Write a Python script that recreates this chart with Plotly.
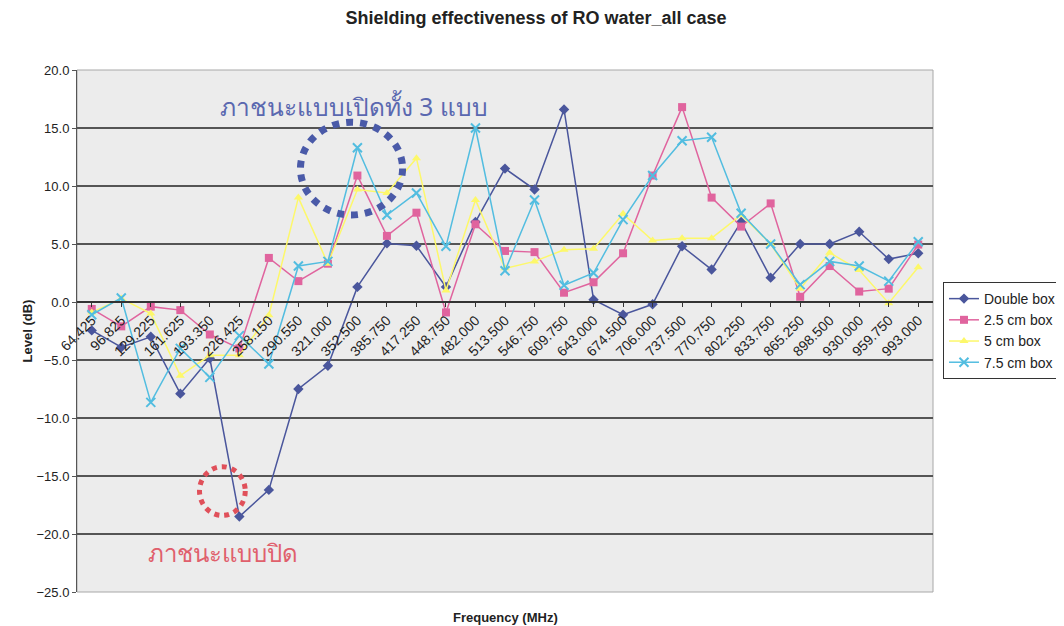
import plotly.graph_objects as go

freq_labels = ["64.425", "96.825", "129.225", "161.625", "193.350", "226.425", "258.150",
               "290.550", "321.000", "352.500", "385.750", "417.250", "448.750", "482.000",
               "513.500", "546.750", "609.750", "643.000", "674.500", "706.000", "737.500",
               "770.750", "802.250", "833.750", "865.250", "898.500", "930.000", "959.750",
               "993.000"]

double_box = [-2.45, -3.9, -3.0, -7.9, -4.85, -18.5, -16.2, -7.5, -5.5, 1.3, 5.05, 4.85, 1.3,
              6.9, 11.5, 9.7, 16.6, 0.2, -1.1, -0.2, 4.8, 2.8, 6.9, 2.1, 5.0, 5.0, 6.05, 3.7, 4.2]
box_2_5cm = [-0.6, -2.1, -0.4, -0.7, -2.8, -4.0, 3.8, 1.8, 3.3, 10.9, 5.7, 7.7, -0.9,
             6.7, 4.4, 4.3, 0.8, 1.7, 4.2, 10.9, 16.8, 9.0, 6.5, 8.5, 0.45, 3.1, 0.9, 1.15, 4.95]
box_5cm = [-0.9, 0.3, -1.0, -6.35, -4.6, -4.6, -1.15, 9.0, 3.3, 9.7, 9.4, 12.4, 1.0,
           8.8, 2.9, 3.5, 4.5, 4.6, 7.6, 5.3, 5.5, 5.5, 7.5, 5.0, 1.15, 4.25, 2.75, -0.1, 3.0]
box_7_5cm = [-1.1, 0.35, -8.65, -4.0, -6.5, -2.9, -5.35, 3.1, 3.5, 13.3, 7.5, 9.4, 4.8,
             15.0, 2.7, 8.8, 1.45, 2.5, 7.1, 10.9, 13.9, 14.2, 7.65, 5.0, 1.5, 3.5, 3.1, 1.8, 5.2]

y_min, y_max = -25, 20

fig = go.Figure()
fig.add_trace(go.Scatter(x=freq_labels, y=double_box, name="Double box", mode="lines+markers",
                         line=dict(color="#4a569c", width=1.5),
                         marker=dict(symbol="diamond", size=8, color="#4a569c")))
fig.add_trace(go.Scatter(x=freq_labels, y=box_2_5cm, name="2.5 cm box", mode="lines+markers",
                         line=dict(color="#e0649e", width=1.5),
                         marker=dict(symbol="square", size=8, color="#e0649e")))
fig.add_trace(go.Scatter(x=freq_labels, y=box_5cm, name="5 cm box", mode="lines+markers",
                         line=dict(color="#fdf86a", width=1.5),
                         marker=dict(symbol="triangle-up", size=8, color="#fdf86a")))
fig.add_trace(go.Scatter(x=freq_labels, y=box_7_5cm, name="7.5 cm box", mode="lines+markers",
                         line=dict(color="#52bde0", width=1.5),
                         marker=dict(symbol="x-thin", size=9, color="#52bde0",
                                     line=dict(color="#52bde0", width=2))))

# dotted circles highlighting regions
fig.add_shape(type="circle", xref="x", yref="y", x0=7.07, x1=10.53, y0=7.5, y1=15.5,
              line=dict(color="#4a5aa8", width=7, dash="dot"), layer="above")
fig.add_shape(type="circle", xref="x", yref="y", x0=3.65, x1=5.2, y0=-18.4, y1=-14.2,
              line=dict(color="#e0505a", width=5, dash="dot"), layer="above")

# plot frame
fig.add_shape(type="rect", xref="paper", yref="paper", x0=0, x1=1, y0=0, y1=1,
              line=dict(color="#a8a8a8", width=1), layer="below")

fig.add_annotation(x=8.87, y=16.85, xref="x", yref="y", text="ภาชนะแบบเปิดทั้ง 3 แบบ",
                   showarrow=False, font=dict(family="Noto Sans, DejaVu Sans", size=24.5, color="#5a68b0"))
fig.add_annotation(x=4.46, y=-21.6, xref="x", yref="y", text="ภาชนะแบบปิด",
                   showarrow=False, font=dict(family="Noto Sans, DejaVu Sans", size=24, color="#e0606c"))

fig.add_annotation(x=0.5, y=-0.048, xref="paper", yref="paper", text="<b>Frequency (MHz)</b>",
                   showarrow=False, yanchor="middle", font=dict(size=13, color="#222"))
fig.add_annotation(x=-0.069, y=0.5, xref="paper", yref="paper", text="<b>Level (dB)</b>",
                   showarrow=False, textangle=-90, font=dict(size=13, color="#222"))

fig.update_layout(
    width=1056, height=618,
    margin=dict(l=69, r=131, t=62, b=34, autoexpand=False),
    paper_bgcolor="#ffffff",
    plot_bgcolor="#ececec",
    font=dict(family="Liberation Sans, Arial", size=12, color="#222"),
    title=dict(text="<b>Shielding effectiveness of RO water_all case</b>", x=0.5, xanchor="center",
               y=0.984, yanchor="middle", font=dict(size=18, color="#222")),
    xaxis=dict(type="category", anchor="free", automargin=False,
               position=(0 - y_min) / (y_max - y_min),
               showline=True, linecolor="#333", linewidth=1.5,
               ticks="outside", ticklen=4, tickcolor="#333",
               tickangle=-45, showgrid=False, range=[-0.5, len(freq_labels) - 0.5],
               tickfont=dict(size=14, color="#222")),
    yaxis=dict(range=[y_min, y_max], dtick=5, tickformat=".1f", showgrid=True, automargin=False,
               gridcolor="#555", gridwidth=1.5, zeroline=False,
               showline=True, linecolor="#555", linewidth=1,
               ticks="outside", ticklen=4, tickcolor="#555",
               tickfont=dict(size=13, color="#222")),
    legend=dict(xref="container", yref="container", x=0.8854, y=0.5566,
                xanchor="left", yanchor="top",
                bgcolor="#ffffff", bordercolor="#333", borderwidth=1,
                font=dict(size=14, color="#222"), tracegroupgap=0,
                itemwidth=30),
    showlegend=True,
)

fig.write_html("out.html")
